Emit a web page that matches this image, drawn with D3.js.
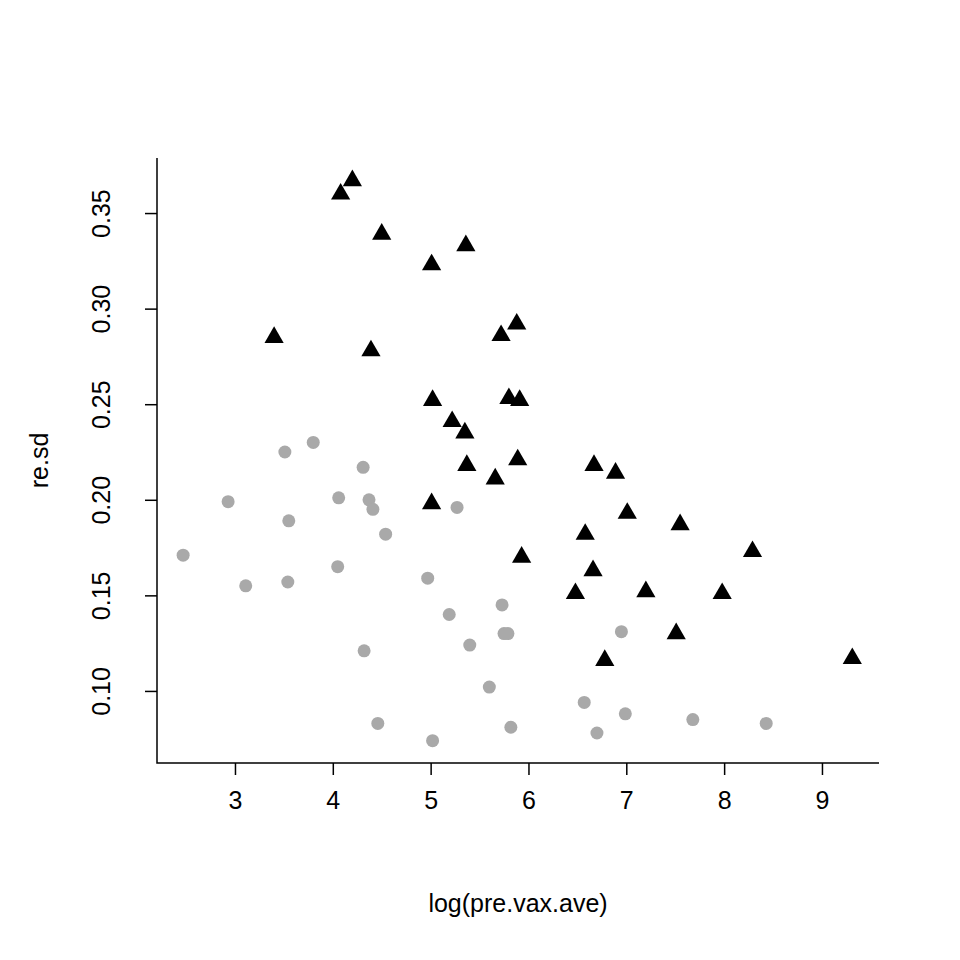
<!DOCTYPE html>
<html>
<head>
<meta charset="utf-8">
<script src="https://cdn.jsdelivr.net/npm/d3@7"></script>
<style>
  body { margin: 0; background: #fff; }
  text { font-family: "Liberation Sans", Arial, sans-serif; font-size: 25px; fill: #000; }
</style>
</head>
<body>
<svg id="chart" width="960" height="960"></svg>
<script>
(function () {
    'use strict';

    // high group (black triangles)
    var triX = [3.40, 4.08, 4.20, 4.50, 4.39, 5.01, 5.36, 5.02, 5.22, 5.35, 5.37, 5.01, 5.72, 5.88, 5.80, 5.91,
        5.89, 5.66, 5.93, 6.67, 6.89, 7.01, 7.55, 6.58, 8.29, 6.66, 6.48, 7.20, 7.98, 7.51, 6.78, 9.31];
    var triY = [0.286, 0.361, 0.368, 0.340, 0.279, 0.324, 0.334, 0.253, 0.242, 0.236, 0.219, 0.199, 0.287, 0.293, 0.254, 0.253,
        0.222, 0.212, 0.171, 0.219, 0.215, 0.194, 0.188, 0.183, 0.174, 0.164, 0.152, 0.153, 0.152, 0.131, 0.117, 0.118];
    // low group (grey circles)
    var dotX = [2.47, 2.93, 3.11, 3.51, 3.55, 3.54, 3.80, 4.05, 4.06, 4.31, 4.37, 4.41, 4.54, 4.32, 4.46, 4.97,
        5.02, 5.19, 5.27, 5.40, 5.60, 5.73, 5.75, 5.79, 5.82, 6.57, 6.70, 6.95, 6.99, 7.68, 8.43];
    var dotY = [0.171, 0.199, 0.155, 0.225, 0.189, 0.157, 0.230, 0.165, 0.201, 0.217, 0.200, 0.195, 0.182, 0.121, 0.083, 0.159,
        0.074, 0.140, 0.196, 0.124, 0.102, 0.145, 0.130, 0.130, 0.081, 0.094, 0.078, 0.131, 0.088, 0.085, 0.083];
    var xTicks = [3, 4, 5, 6, 7, 8, 9];
    var yTicks = [0.10, 0.15, 0.20, 0.25, 0.30, 0.35];

    var svg = d3.select('#chart');
    var left = 157, right = 879, top = 158, bottom = 763;

    var x = d3.scaleLinear().domain([2.203, 9.583]).range([left, right]);
    var y = d3.scaleLinear().domain([0.0623, 0.3788]).range([bottom, top]);

    var xAxis = svg.append('g').attr('transform', 'translate(0,' + bottom + ')')
        .call(d3.axisBottom(x).tickValues(xTicks).tickFormat(d3.format('d')).tickSize(12).tickPadding(16));
    var yAxis = svg.append('g').attr('transform', 'translate(' + left + ',0)')
        .call(d3.axisLeft(y).tickValues(yTicks).tickFormat(d3.format('.2f')).tickSize(12));

    [xAxis, yAxis].forEach(function (g) {
        g.attr('font-size', null).attr('font-family', null);
        g.select('.domain').remove();
        g.selectAll('line').attr('stroke', '#000').attr('stroke-width', 1.5);
    });
    yAxis.selectAll('.tick text')
        .attr('x', null).attr('dy', null)
        .attr('text-anchor', 'middle')
        .attr('transform', 'translate(-54,0) rotate(-90)')
        .attr('y', 0).attr('dominant-baseline', 'middle');

    // L-shaped box
    svg.append('path')
        .attr('d', 'M' + left + ',' + top + 'V' + bottom + 'H' + right)
        .attr('fill', 'none').attr('stroke', '#000').attr('stroke-width', 1.5);

    svg.append('g').selectAll('circle')
        .data(dotX)
        .enter().append('circle')
        .attr('cx', function (d) { return x(d); })
        .attr('cy', function (d, i) { return y(dotY[i]); })
        .attr('r', 6.5)
        .attr('fill', '#a9a9a9');

    var tri = d3.symbol().type(d3.symbolTriangle).size(160);
    svg.append('g').selectAll('path')
        .data(triX)
        .enter().append('path')
        .attr('d', tri)
        .attr('transform', function (d, i) { return 'translate(' + x(d) + ',' + (y(triY[i]) + 2) + ')'; })
        .attr('fill', '#000');

    svg.append('text').attr('x', (left + right) / 2).attr('y', 912)
        .attr('text-anchor', 'middle').text('log(pre.vax.ave)');
    svg.append('text').attr('transform', 'translate(48,' + (top + bottom) / 2 + ') rotate(-90)')
        .attr('text-anchor', 'middle').text('re.sd');
}());
</script>
</body>
</html>
